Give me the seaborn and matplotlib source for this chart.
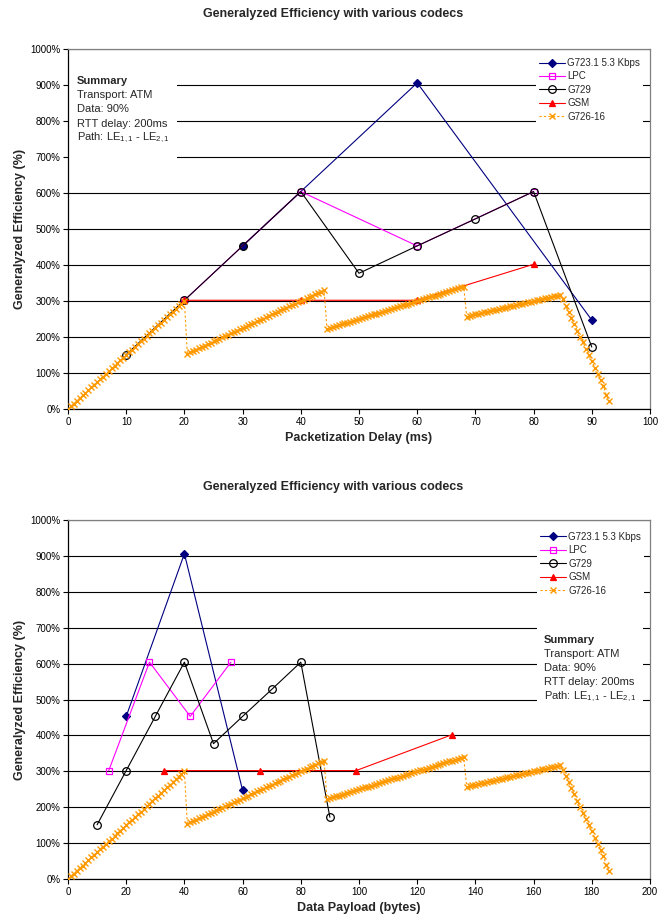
import matplotlib
matplotlib.use("Agg")
import matplotlib.pyplot as plt
import matplotlib.patches as mpatches
from matplotlib.ticker import FuncFormatter, MultipleLocator
import seaborn as sns
import pandas as pd

# ---------------- data ----------------
title = "Generalyzed Efficiency with various codecs"
ylabel = "Generalyzed Efficiency (%)"
xlabel_top = "Packetization Delay (ms)"
xlabel_bot = "Data Payload (bytes)"

codecs = ["G723.1 5.3 Kbps", "LPC", "G729", "GSM", "G726-16"]

g723_delay = [30, 60, 90]
g723_payload = [20, 40, 60]
g723_eff = [453, 906, 247]

lpc_delay = [20, 40, 60, 80]
lpc_payload = [14, 28, 42, 56]
lpc_eff = [302, 604, 453, 604]

g729_delay = [10, 20, 30, 40, 50, 60, 70, 80, 90]
g729_payload = [10, 20, 30, 40, 50, 60, 70, 80, 90]
g729_eff = [151, 302, 453, 604, 377, 453, 528, 604, 172]

gsm_delay = [20, 40, 60, 80]
gsm_payload = [33, 66, 99, 132]
gsm_eff = [302, 302, 302, 402]

g726_eff = [
    0, 7.5, 15, 22.5, 30, 37.5, 45, 52.5, 60, 67.5, 75, 82.5, 90, 97.5, 105,
    112.5, 120, 127.5, 135, 142.5, 150, 157.5, 165, 172.5, 180, 187.5, 195,
    202.5, 210, 217.5, 225, 232.5, 240, 247.5, 255, 262.5, 270, 277.5, 285,
    292.5, 300,
    153.8, 157.5, 161.3, 165, 168.8, 172.5, 176.3, 180, 183.8, 187.5, 191.3,
    195, 198.8, 202.5, 206.3, 210, 213.8, 217.5, 221.3, 225, 228.8, 232.5,
    236.3, 240, 243.8, 247.5, 251.3, 255, 258.8, 262.5, 266.3, 270, 273.8,
    277.5, 281.3, 285, 288.8, 292.5, 296.3, 300, 303.8, 307.5, 311.3, 315,
    318.8, 322.5, 326.3, 330,
    222.5, 225, 227.5, 230, 232.5, 235, 237.5, 240, 242.5, 245, 247.5, 250,
    252.5, 255, 257.5, 260, 262.5, 265, 267.5, 270, 272.5, 275, 277.5, 280,
    282.5, 285, 287.5, 290, 292.5, 295, 297.5, 300, 302.5, 305, 307.5, 310,
    312.5, 315, 317.5, 320, 322.5, 325, 327.5, 330, 332.5, 335, 337.5, 340,
    256.9, 258.8, 260.6, 262.5, 264.4, 266.3, 268.1, 270, 271.9, 273.8, 275.6,
    277.5, 279.4, 281.3, 283.1, 285, 286.9, 288.8, 290.6, 292.5, 294.4, 296.3,
    298.1, 300, 301.9, 303.8, 305.6, 307.5, 309.4, 311.3, 313.1, 315, 316.9,
    305, 287, 270, 253, 236, 218, 201, 185, 167, 150, 133, 115, 98, 81, 64,
    38, 23,
]
g726_payload = list(range(len(g726_eff)))          # bytes
g726_delay = [b / 2 for b in g726_payload]          # 16 kbps -> 2 bytes per ms

summary_lines = ["Transport: ATM", "Data: 90%", "RTT delay: 200ms",
                 r"Path: LE$_{1,1}$ - LE$_{2,1}$"]

# ---------------- style ----------------
sns.set_style("white")
plt.rcParams["font.family"] = ["Liberation Sans", "DejaVu Sans"]
plt.rcParams["mathtext.fontset"] = "custom"
plt.rcParams["mathtext.rm"] = "Liberation Sans"
plt.rcParams["mathtext.it"] = "Liberation Sans"
plt.rcParams["mathtext.bf"] = "Liberation Sans:bold"

styles = {
    "G723.1 5.3 Kbps": dict(color="#000080", marker="D", markersize=3.6,
                             markerfacecolor="#000080", markeredgecolor="#000080",
                             linestyle="-", linewidth=0.8),
    "LPC": dict(color="#FF00FF", marker="s", markersize=5,
                markerfacecolor="none", markeredgecolor="#FF00FF",
                linestyle="-", linewidth=0.8),
    "G729": dict(color="#000000", marker="o", markersize=5.5,
                 markerfacecolor="none", markeredgecolor="#000000",
                 linestyle="-", linewidth=0.8),
    "GSM": dict(color="#FF0000", marker="^", markersize=5,
                markerfacecolor="#FF0000", markeredgecolor="#FF0000",
                linestyle="-", linewidth=0.8),
    "G726-16": dict(color="#FF9900", marker="x", markersize=4,
                    markerfacecolor="#FF9900", markeredgecolor="#FF9900",
                    linestyle=(0, (2, 2)), linewidth=0.8),
}

fig = plt.figure(figsize=(6.67, 9.22), dpi=100)
ax_top = fig.add_axes([68 / 667, (922 - 409) / 922, 582 / 667, 360 / 922])
ax_bot = fig.add_axes([68 / 667, (922 - 879) / 922, 582 / 667, 359 / 922])

series_top = [
    ("G723.1 5.3 Kbps", g723_delay, g723_eff),
    ("LPC", lpc_delay, lpc_eff),
    ("G729", g729_delay, g729_eff),
    ("GSM", gsm_delay, gsm_eff),
    ("G726-16", g726_delay, g726_eff),
]
series_bot = [
    ("G723.1 5.3 Kbps", g723_payload, g723_eff),
    ("LPC", lpc_payload, lpc_eff),
    ("G729", g729_payload, g729_eff),
    ("GSM", gsm_payload, gsm_eff),
    ("G726-16", g726_payload, g726_eff),
]


def draw(ax, series, xmax, xstep, xlabel, legend_anchor, summary_xy, summary_box):
    for i, (name, xs, ys) in enumerate(series):
        df = pd.DataFrame({"x": xs, "y": ys})
        st = dict(styles[name])
        if name == "G726-16":
            st["markeredgewidth"] = 1.0
        else:
            st["markeredgewidth"] = 0.9
        sns.lineplot(data=df, x="x", y="y", ax=ax, sort=False, estimator=None,
                     errorbar=None, label=name, legend=False, zorder=3 + i,
                     **st)
    ax.set_xlim(0, xmax)
    ax.set_ylim(0, 1000)
    ax.xaxis.set_major_locator(MultipleLocator(xstep))
    ax.yaxis.set_major_locator(MultipleLocator(100))
    ax.yaxis.set_major_formatter(FuncFormatter(lambda v, p: f"{v:.0f}%"))
    ax.grid(axis="y", color="#000000", linewidth=0.8)
    ax.set_axisbelow(True)
    for s in ["left", "bottom"]:
        ax.spines[s].set_color("#000000")
        ax.spines[s].set_linewidth(0.9)
    for s in ["top", "right"]:
        ax.spines[s].set_color("#808080")
        ax.spines[s].set_linewidth(0.9)
        ax.spines[s].set_visible(True)
    ax.tick_params(axis="both", direction="out", length=3.5, width=0.8,
                   labelsize=7, pad=2, colors="#000000",
                   bottom=True, left=True)
    ax.set_xlabel(xlabel, fontsize=9, fontweight="bold")
    ax.set_ylabel(ylabel, fontsize=9, fontweight="bold")
    ax.yaxis.set_label_coords(-0.072, 0.5)

    handles, labels = ax.get_legend_handles_labels()
    leg = ax.legend(handles, labels, loc="upper right", bbox_to_anchor=legend_anchor,
                    fontsize=7, frameon=True, fancybox=False, framealpha=1,
                    edgecolor="none", facecolor="white", handlelength=2.7,
                    handletextpad=0.2, labelspacing=0.35, borderpad=0.3,
                    borderaxespad=0, numpoints=1)
    leg.set_zorder(10)

    # summary box
    bx, by, bw, bh = summary_box
    ax.add_patch(mpatches.Rectangle((bx, by), bw, bh, transform=ax.transAxes,
                                    facecolor="white", edgecolor="none", zorder=2))
    sx, sy = summary_xy
    dy = 14.1 / 360
    ax.text(sx, sy, "Summary", transform=ax.transAxes, fontsize=8,
            fontweight="bold", va="baseline", ha="left", zorder=11)
    for k, line in enumerate(summary_lines):
        ax.text(sx, sy - dy * (k + 1), line, transform=ax.transAxes, fontsize=8,
                va="baseline", ha="left", zorder=11)


draw(ax_top, series_top, 100, 10, xlabel_top, (0.988, 0.983),
     (0.0155, 0.902), (0.0, 0.69, 0.188, 0.28))
draw(ax_bot, series_bot, 200, 20, xlabel_bot, (0.99, 0.975),
     (0.818, 0.6565), (0.806, 0.47, 0.182, 0.25))

fig.text(0.5, (922 - 14) / 922, title, ha="center", va="center",
         fontsize=9, fontweight="bold")
fig.text(0.5, (922 - 487) / 922, title, ha="center", va="center",
         fontsize=9, fontweight="bold")

fig.savefig("out.png", dpi=100, facecolor="white")
